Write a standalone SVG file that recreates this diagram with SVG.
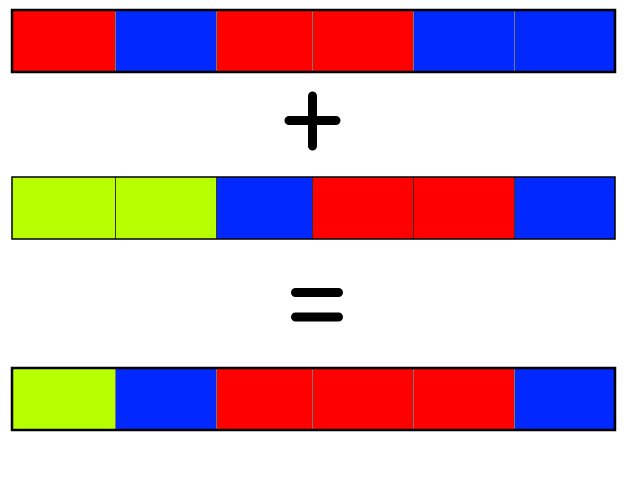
<svg xmlns="http://www.w3.org/2000/svg" width="626" height="500" viewBox="0 0 626 500">
<style>
.r{fill:#ff0000}.b{fill:#0028ff}.g{fill:#b8ff00}
.d{stroke:#777;stroke-width:1}
.d2{stroke:#333;stroke-width:1}
.o{fill:none;stroke:#000}
.sym{stroke:#000;stroke-width:9;stroke-linecap:round;fill:none}
</style>
<rect width="626" height="500" fill="#fff"/>
<g id="row1">
<rect class="r" x="12" y="10" width="103" height="62"/>
<rect class="b" x="115" y="10" width="101" height="62"/>
<rect class="r" x="216" y="10" width="96" height="62"/>
<rect class="r" x="312" y="10" width="101" height="62"/>
<rect class="b" x="413" y="10" width="101" height="62"/>
<rect class="b" x="514" y="10" width="101" height="62"/>
<path class="d" d="M115.5 10V72M216.5 10V72M312.5 10V72M413.5 10V72M514.5 10V72"/>
<rect class="o" stroke-width="2.5" x="12" y="10" width="603" height="62"/>
</g>
<g id="plus"><path class="sym" stroke-width="8.5" d="M312.5 96V146M289 120.5H336"/></g>
<g id="row2">
<rect class="g" x="12" y="177" width="103" height="62"/>
<rect class="g" x="115" y="177" width="101" height="62"/>
<rect class="b" x="216" y="177" width="96" height="62"/>
<rect class="r" x="312" y="177" width="101" height="62"/>
<rect class="r" x="413" y="177" width="101" height="62"/>
<rect class="b" x="514" y="177" width="101" height="62"/>
<path class="d2" d="M115.5 177V239M216.5 177V239M312.5 177V239M413.5 177V239M514.5 177V239"/>
<rect class="o" stroke-width="1.5" x="12" y="177" width="603" height="62"/>
</g>
<g id="equals"><path class="sym" d="M295.5 292.5H338.5M295.5 317H338.5"/></g>
<g id="row3">
<rect class="g" x="12" y="368" width="103" height="62"/>
<rect class="b" x="115" y="368" width="101" height="62"/>
<rect class="r" x="216" y="368" width="96" height="62"/>
<rect class="r" x="312" y="368" width="101" height="62"/>
<rect class="r" x="413" y="368" width="101" height="62"/>
<rect class="b" x="514" y="368" width="101" height="62"/>
<path class="d" d="M115.5 368V430M216.5 368V430M312.5 368V430M413.5 368V430M514.5 368V430"/>
<rect class="o" stroke-width="2.5" x="12" y="368" width="603" height="62"/>
</g>
<g id="connectors"></g>
</svg>
